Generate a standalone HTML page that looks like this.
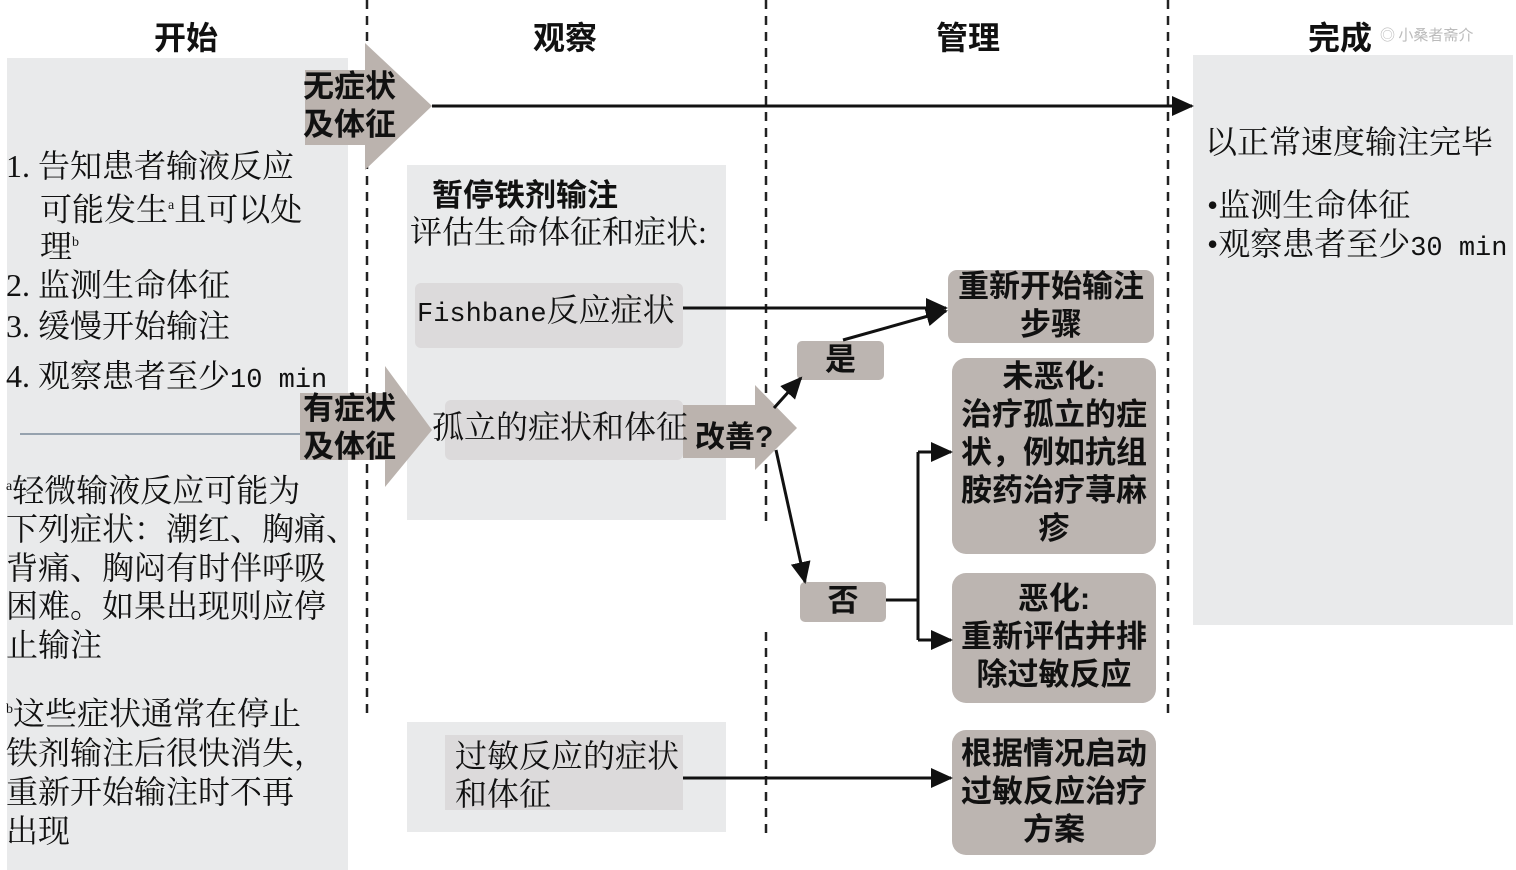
<!DOCTYPE html>
<html><head><meta charset="utf-8"><style>
body{margin:0;width:1516px;height:870px;background:#fff;position:relative;overflow:hidden;font-family:"Liberation Serif","Noto Serif CJK SC",serif;color:#111}
.a{position:absolute;white-space:nowrap}
.t{font-size:32px;line-height:32px}
.m{font-family:"Liberation Mono",monospace;font-size:27px}
.h{font-family:"Liberation Sans","Noto Sans CJK SC",sans-serif;font-weight:bold;font-size:32px}
.b{font-family:"Liberation Sans","Noto Sans CJK SC",sans-serif;font-weight:bold;font-size:31px;line-height:38px;text-align:center}
.box{position:absolute;background:#bcb5b1;border-radius:9px}
</style></head><body>
<div class="a" style="left:7px;top:58px;width:341px;height:812px;background:#e9eaeb"></div>
<div class="a" style="left:407px;top:165px;width:319px;height:355px;background:#e9eaeb"></div>
<div class="a" style="left:407px;top:722px;width:319px;height:110px;background:#e9eaeb"></div>
<div class="a" style="left:1193px;top:55px;width:320px;height:570px;background:#e9eaeb"></div>
<div class="a" style="left:415px;top:283px;width:268px;height:65px;background:#dcdadb;border-radius:6px"></div>
<div class="a" style="left:445px;top:400px;width:238px;height:60px;background:#dcdadb;border-radius:6px"></div>
<div class="a" style="left:445px;top:735px;width:238px;height:75px;background:#dcdadb"></div>
<div class="box" style="left:797px;top:341px;width:87px;height:39px;border-radius:5px"></div>
<div class="box" style="left:800px;top:582px;width:86px;height:40px;border-radius:5px"></div>
<div class="box" style="left:948px;top:270px;width:206px;height:73px"></div>
<div class="box" style="left:952px;top:358px;width:204px;height:196px;border-radius:14px"></div>
<div class="box" style="left:952px;top:573px;width:204px;height:130px;border-radius:14px"></div>
<div class="box" style="left:952px;top:730px;width:204px;height:125px;border-radius:14px"></div>
<svg class="a" style="left:0;top:0" width="1516" height="870">
<defs><marker id="mb" markerWidth="22" markerHeight="20" refX="20" refY="10" orient="auto" markerUnits="userSpaceOnUse"><path d="M0,0L22,10L0,20z" fill="#111"/></marker></defs>
<g stroke="#222" stroke-width="2.5" stroke-dasharray="9,7">
<line x1="367" y1="0" x2="367" y2="720"/><line x1="766" y1="0" x2="766" y2="525"/><line x1="766" y1="632" x2="766" y2="835"/><line x1="1168" y1="0" x2="1168" y2="715"/></g>
<line x1="20" y1="434" x2="300" y2="434" stroke="#7a8a99" stroke-width="1.5"/>
<path d="M305,70H365V43L432,106L365,170V145H305Z" fill="#bbb3ae"/>
<path d="M300,393H385V366L432,430L385,487V460H300Z" fill="#bbb3ae"/>
<path d="M683,405H755V385L797,428L755,470V458H683Z" fill="#bbb3ae"/>
<g stroke="#111" stroke-width="3" fill="none">
<line x1="432" y1="106" x2="1192" y2="106" marker-end="url(#mb)"/>
<line x1="683" y1="308" x2="946" y2="308" marker-end="url(#mb)"/>
<line x1="843" y1="340" x2="946" y2="311" marker-end="url(#mb)"/>
<line x1="774" y1="408" x2="801" y2="378" marker-end="url(#mb)"/>
<line x1="776" y1="450" x2="805" y2="582" marker-end="url(#mb)"/>
<polyline points="886,600 918,600"/>
<polyline points="918,452 918,640"/>
<line x1="918" y1="452" x2="951" y2="452" marker-end="url(#mb)"/>
<line x1="918" y1="640" x2="951" y2="640" marker-end="url(#mb)"/>
<line x1="683" y1="778" x2="951" y2="778" marker-end="url(#mb)"/>
</g></svg>
<div class="a h" style="left:154px;top:13px">开始</div>
<div class="a h" style="left:533px;top:13px">观察</div>
<div class="a h" style="left:936px;top:13px">管理</div>
<div class="a h" style="left:1308px;top:13px">完成</div>
<div class="a" style="left:1380px;top:24px;font-size:15px;color:#bbb;font-family:'Noto Sans CJK SC',sans-serif">◎ 小桑者斋介</div>
<div class="a b" style="left:303px;top:68px;text-align:left">无症状<br>及体征</div>
<div class="a b" style="left:303px;top:390px;text-align:left">有症状<br>及体征</div>
<div class="a t" style="left:6px;top:150px">1. 告知患者输液反应</div>
<div class="a t" style="left:40px;top:190px">可能发生<sup style="font-size:14px">a</sup>且可以处</div>
<div class="a t" style="left:40px;top:227px">理<sup style="font-size:14px">b</sup></div>
<div class="a t" style="left:6px;top:269px">2. 监测生命体征</div>
<div class="a t" style="left:6px;top:310px">3. 缓慢开始输注</div>
<div class="a t" style="left:6px;top:360px">4. 观察患者至少<span class="m">10 min</span></div>
<div class="a t" style="left:6px;top:468px;line-height:38.5px"><sup style="font-size:14px">a</sup>轻微输液反应可能为<br>下列症状：潮红、胸痛、<br>背痛、胸闷有时伴呼吸<br>困难。如果出现则应停<br>止输注</div>
<div class="a t" style="left:6px;top:690px;line-height:39px"><sup style="font-size:14px">b</sup>这些症状通常在停止<br>铁剂输注后很快消失，<br>重新开始输注时不再<br>出现</div>
<div class="a" style="left:432px;top:170px;font-size:31px;font-weight:bold;font-family:'Liberation Sans','Noto Sans CJK SC',sans-serif">暂停铁剂输注</div>
<div class="a t" style="left:410px;top:216px">评估生命体征和症状:</div>
<div class="a t" style="left:417px;top:294px"><span class="m">Fishbane</span>反应症状</div>
<div class="a t" style="left:432px;top:411px">孤立的症状和体征</div>
<div class="a" style="left:695px;top:412px;font-size:30px;font-weight:bold;font-family:'Liberation Sans','Noto Sans CJK SC',sans-serif">改善?</div>
<div class="a t" style="left:455px;top:737px;line-height:38px">过敏反应的症状<br>和体征</div>
<div class="a b" style="left:797px;top:341px;width:87px">是</div>
<div class="a b" style="left:800px;top:582px;width:86px">否</div>
<div class="a b" style="left:948px;top:268px;width:206px">重新开始输注<br>步骤</div>
<div class="a b" style="left:952px;top:358px;width:204px">未恶化:<br>治疗孤立的症<br>状，例如抗组<br>胺药治疗荨麻<br>疹</div>
<div class="a b" style="left:952px;top:580px;width:204px">恶化:<br>重新评估并排<br>除过敏反应</div>
<div class="a b" style="left:952px;top:735px;width:204px">根据情况启动<br>过敏反应治疗<br>方案</div>
<div class="a t" style="left:1205px;top:126px">以正常速度输注完毕</div>
<div class="a t" style="left:1207px;top:189px">•监测生命体征</div>
<div class="a t" style="left:1207px;top:228px">•观察患者至少<span class="m">30 min</span></div>
</body></html>
